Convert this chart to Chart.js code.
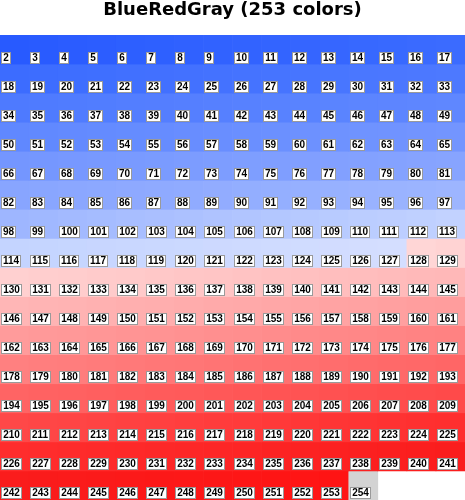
<!DOCTYPE html>
<html>
<head>
<meta charset="utf-8">
<title>BlueRedGray</title>
<script src="https://cdn.jsdelivr.net/npm/chart.js@4/dist/chart.umd.min.js"></script>
<style>
  html, body { margin: 0; padding: 0; background: #ffffff; }
  #wrap { width: 465px; height: 500px; }
  canvas { display: block; }
</style>
</head>
<body>
<div id="wrap"><canvas id="chart" width="465" height="500"></canvas></div>
<script>
// Colour table entries shown in the grid, in reading order.
const colorIndices = [
  2, 3, 4, 5, 6, 7, 8, 9, 10, 11, 12, 13, 14, 15, 16, 17,
  18, 19, 20, 21, 22, 23, 24, 25, 26, 27, 28, 29, 30, 31, 32, 33,
  34, 35, 36, 37, 38, 39, 40, 41, 42, 43, 44, 45, 46, 47, 48, 49,
  50, 51, 52, 53, 54, 55, 56, 57, 58, 59, 60, 61, 62, 63, 64, 65,
  66, 67, 68, 69, 70, 71, 72, 73, 74, 75, 76, 77, 78, 79, 80, 81,
  82, 83, 84, 85, 86, 87, 88, 89, 90, 91, 92, 93, 94, 95, 96, 97,
  98, 99, 100, 101, 102, 103, 104, 105, 106, 107, 108, 109, 110, 111, 112, 113,
  114, 115, 116, 117, 118, 119, 120, 121, 122, 123, 124, 125, 126, 127, 128, 129,
  130, 131, 132, 133, 134, 135, 136, 137, 138, 139, 140, 141, 142, 143, 144, 145,
  146, 147, 148, 149, 150, 151, 152, 153, 154, 155, 156, 157, 158, 159, 160, 161,
  162, 163, 164, 165, 166, 167, 168, 169, 170, 171, 172, 173, 174, 175, 176, 177,
  178, 179, 180, 181, 182, 183, 184, 185, 186, 187, 188, 189, 190, 191, 192, 193,
  194, 195, 196, 197, 198, 199, 200, 201, 202, 203, 204, 205, 206, 207, 208, 209,
  210, 211, 212, 213, 214, 215, 216, 217, 218, 219, 220, 221, 222, 223, 224, 225,
  226, 227, 228, 229, 230, 231, 232, 233, 234, 235, 236, 237, 238, 239, 240, 241,
  242, 243, 244, 245, 246, 247, 248, 249, 250, 251, 252, 253, 254
];

const chartTitle = 'BlueRedGray (253 colors)';
const cellsPerRow = 16;

// Colour ramp stops: [table index, r, g, b]. Blue half fades to pale blue,
// red half runs from pale pink to full red, last entry is gray.
const rampStops = [
  [2, 40, 90, 255],
  [18, 60, 108, 255],
  [34, 78, 122, 255],
  [50, 96, 136, 255],
  [66, 116, 150, 255],
  [82, 136, 165, 255],
  [98, 158, 182, 255],
  [114, 196, 212, 255],
  [127, 212, 222, 255],
  [128, 255, 214, 214],
  [130, 255, 208, 208],
  [146, 255, 182, 182],
  [162, 255, 155, 155],
  [178, 255, 128, 128],
  [194, 255, 100, 100],
  [210, 255, 72, 72],
  [226, 255, 45, 45],
  [242, 250, 28, 28],
  [253, 255, 20, 20],
  [254, 211, 211, 211]
];

function rampColor(idx) {
  for (let i = 0; i < rampStops.length - 1; i++) {
    const a = rampStops[i], b = rampStops[i + 1];
    if (idx >= a[0] && idx <= b[0]) {
      const t = b[0] === a[0] ? 0 : (idx - a[0]) / (b[0] - a[0]);
      const c = [1, 2, 3].map(k => Math.round(a[k] + (b[k] - a[k]) * t));
      return 'rgb(' + c.join(',') + ')';
    }
  }
  const s = rampStops[rampStops.length - 1];
  return 'rgb(' + s[1] + ',' + s[2] + ',' + s[3] + ')';
}

// One stacked dataset per grid row; every cell is one unit tall.
const rowCount = Math.ceil(colorIndices.length / cellsPerRow);
const columnLabels = Array.from({ length: cellsPerRow }, (_, c) => String(c + 1));
const rowDatasets = [];
for (let r = 0; r < rowCount; r++) {
  const data = [], colors = [], labels = [];
  for (let c = 0; c < cellsPerRow; c++) {
    const idx = colorIndices[r * cellsPerRow + c];
    if (idx === undefined) {
      data.push(null); colors.push('rgba(0,0,0,0)'); labels.push(null);
    } else {
      data.push(1); colors.push(rampColor(idx)); labels.push(idx);
    }
  }
  rowDatasets.push({
    label: 'row ' + (r + 1),
    data: data,
    cellLabels: labels,
    backgroundColor: colors,
    borderWidth: 0,
    barPercentage: 1,
    categoryPercentage: 1,
    stack: 'grid'
  });
}

// Draws the boxed index number in the lower-left part of each cell.
const cellLabelPlugin = {
  id: 'cellLabels',
  afterDatasetsDraw(chart) {
    const ctx = chart.ctx;
    ctx.save();
    ctx.font = 'bold 10px "Liberation Sans", Arial, sans-serif';
    ctx.textAlign = 'center';
    ctx.textBaseline = 'middle';
    chart.data.datasets.forEach((ds, di) => {
      const meta = chart.getDatasetMeta(di);
      meta.data.forEach((bar, i) => {
        const v = ds.cellLabels[i];
        if (v === null || v === undefined) return;
        const p = bar.getProps(['x', 'y', 'base', 'width'], true);
        const left = p.x - p.width / 2;
        const top = Math.min(p.y, p.base);
        const text = String(v);
        const tw = ctx.measureText(text).width;
        const bx = Math.round(left + 1);
        const by = Math.round(top + 16.5);
        const bw = Math.round(tw + 4);
        const bh = 12;
        ctx.fillStyle = '#ffffff';
        ctx.fillRect(bx, by, bw, bh);
        ctx.strokeStyle = '#9a9a9a';
        ctx.lineWidth = 1;
        ctx.strokeRect(bx + 0.5, by + 0.5, bw - 1, bh - 1);
        ctx.fillStyle = '#000000';
        ctx.fillText(text, bx + bw / 2, by + bh / 2 + 0.5);
      });
    });
    ctx.restore();
  }
};

new Chart(document.getElementById('chart'), {
  type: 'bar',
  data: { labels: columnLabels, datasets: rowDatasets },
  options: {
    responsive: false,
    devicePixelRatio: 1,
    animation: false,
    layout: { padding: 0 },
    plugins: {
      legend: { display: false },
      tooltip: { enabled: false },
      title: {
        display: true,
        text: chartTitle,
        color: '#000000',
        font: { family: '"DejaVu Sans", sans-serif', size: 18, weight: 'bold', lineHeight: 1.15 },
        padding: { top: 0, bottom: 14.3 }
      }
    },
    scales: {
      x: { display: false, stacked: true, offset: true, grid: { display: false } },
      y: { display: false, stacked: true, reverse: true, min: 0, max: rowCount, grid: { display: false } }
    }
  },
  plugins: [cellLabelPlugin]
});
</script>
</body>
</html>
